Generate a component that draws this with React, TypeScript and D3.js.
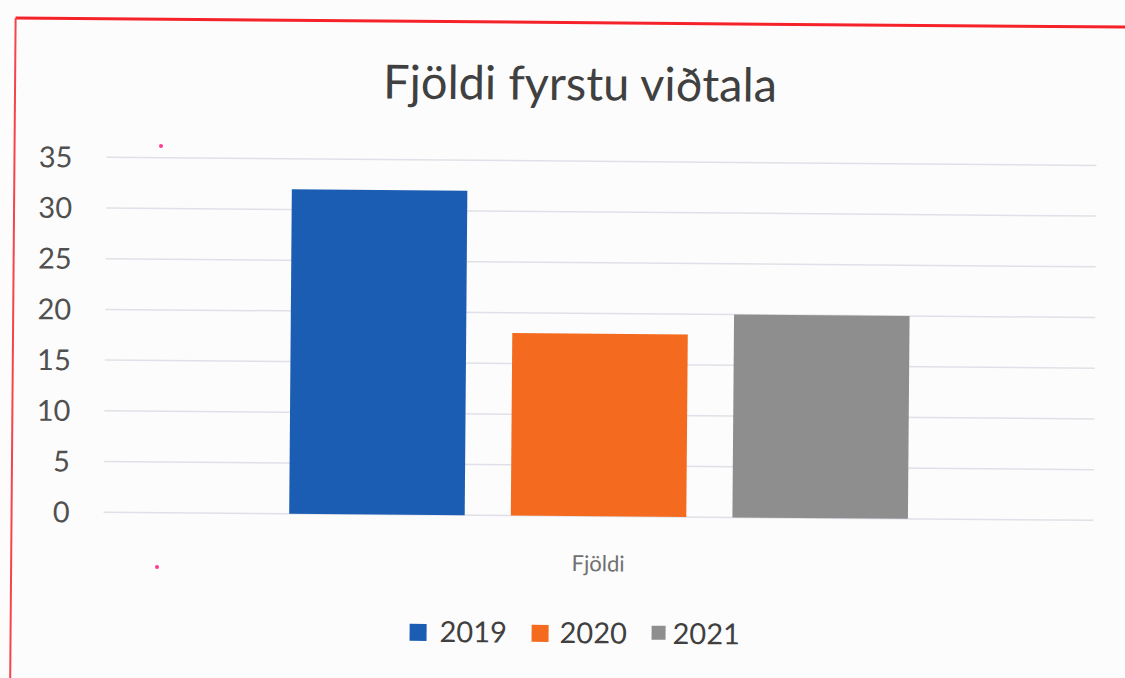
import React from "react";
import * as d3 from "d3";

const title = "Fjöldi fyrstu viðtala";
const categories = ["Fjöldi"];
const years = ["2019", "2020", "2021"];
const values = [32, 18, 20];
const yTicks = [0, 5, 10, 15, 20, 25, 30, 35];
const colors = ["#1b5db3", "#f46b1f", "#8e8e8e"];

const W = 1125;
const H = 678;
const FONT = "Lato, 'Open Sans', sans-serif";

export default function App() {
  const y = d3.scaleLinear().domain([0, 35]).range([516, 161]);
  const x0 = d3.scaleBand().domain(categories).range([105, 1095]).paddingOuter(0.3).paddingInner(0);
  const x1 = d3.scaleBand().domain(years).range([0, x0.bandwidth()]).paddingInner(0.208).paddingOuter(0);

  const legendItems = [
    { year: years[0], sx: 412, tx: 442 },
    { year: years[1], sx: 534, tx: 562 },
    { year: years[2], sx: 654, tx: 675 },
  ];

  return (
    <svg
      width={W}
      height={H}
      style={{ position: "fixed", left: 0, top: 0, display: "block", background: "#fcfcfd" }}
    >
      <rect x={0} y={0} width={W} height={H} fill="#fcfcfd" />
      <g transform="rotate(0.47, 562, 339)">
        {/* red frame */}
        <line x1={13} y1={22.5} x2={1200} y2={22.5} stroke="#f5222a" strokeWidth={3} />
        <line x1={13} y1={22.5} x2={13} y2={720} stroke="#f5454a" strokeWidth={2} />

        {/* title */}
        <text
          x={578}
          y={100}
          textAnchor="middle"
          fontFamily={FONT}
          fontSize={47}
          fill="#404040"
        >
          {title}
        </text>

        {/* gridlines */}
        {yTicks.map((t) => (
          <line
            key={"g" + t}
            x1={105}
            x2={1095}
            y1={y(t)}
            y2={y(t)}
            stroke="#e0e0e8"
            strokeWidth={1.5}
          />
        ))}

        {/* y tick labels */}
        {yTicks.map((t) => (
          <text
            key={"t" + t}
            x={71}
            y={y(t)}
            dy="0.36em"
            textAnchor="end"
            fontFamily={FONT}
            fontSize={29}
            fill="#505050"
          >
            {t}
          </text>
        ))}

        {/* bars */}
        {categories.map((c) =>
          years.map((yr, i) => (
            <rect
              key={c + yr}
              x={(x0(c) as number) + (x1(yr) as number)}
              y={y(values[i])}
              width={x1.bandwidth()}
              height={y(0) - y(values[i])}
              fill={colors[i]}
            />
          ))
        )}

        {/* category label */}
        {categories.map((c) => (
          <text
            key={"c" + c}
            x={(x0(c) as number) + x0.bandwidth() / 2}
            y={571}
            textAnchor="middle"
            fontFamily={FONT}
            fontSize={22}
            fill="#707070"
          >
            {c}
          </text>
        ))}

        {/* legend */}
        {legendItems.map((l, i) => (
          <g key={"l" + l.year}>
            <rect x={l.sx} y={625} width={i === 2 ? 14 : 17} height={i === 2 ? 14 : 17} fill={colors[i]} />
            <text
              x={l.tx}
              y={643}
              fontFamily={FONT}
              fontSize={29}
              fill="#404040"
            >
              {l.year}
            </text>
          </g>
        ))}
      </g>
      {/* scan specks */}
      <circle cx={161} cy={146} r={2} fill="#ff3c8c" />
      <circle cx={157} cy={567} r={2} fill="#ff3c8c" />
    </svg>
  );
}
